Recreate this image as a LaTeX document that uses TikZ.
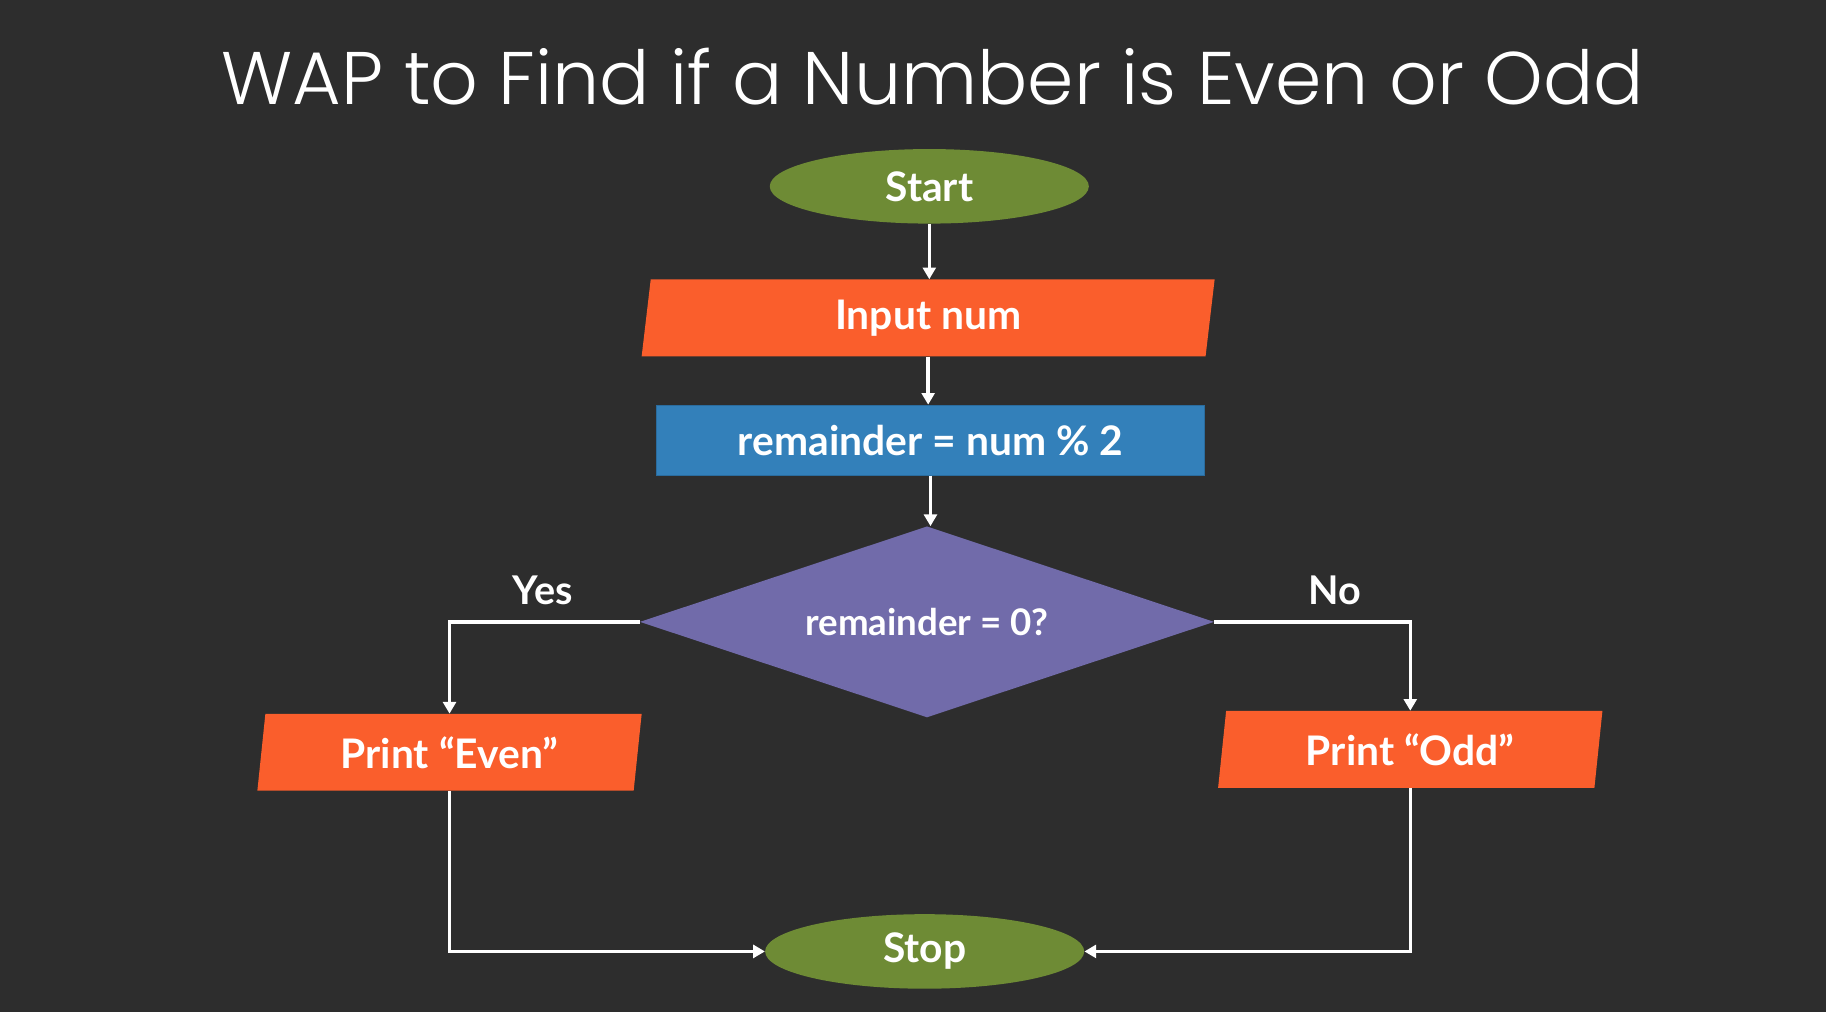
\documentclass[tikz,border=0pt]{standalone}
\usepackage{fontspec}
\setmainfont{Lato}
\newfontfamily\titlefont{Poppins Light}
\usetikzlibrary{shapes.geometric,arrows.meta}
\definecolor{bg}{HTML}{2D2D2D}
\definecolor{termgreen}{HTML}{6E8B35}
\definecolor{ioorange}{HTML}{FA5E2C}
\definecolor{procblue}{HTML}{3380BA}
\definecolor{procborder}{HTML}{2A6C9E}
\definecolor{decpurple}{HTML}{716BAA}
\begin{document}
\begin{tikzpicture}[x=1pt,y=-1pt,
  boxtext/.style={text=white, font=\bfseries\fontsize{35}{40}\selectfont},
  terminal/.style={boxtext, ellipse, fill=termgreen, minimum width=274pt, minimum height=64pt, inner sep=0pt},
  iobox/.style={boxtext, trapezium, trapezium left angle=76, trapezium right angle=104,
     trapezium stretches body, fill=ioorange, minimum width=492pt, minimum height=66pt, inner sep=0pt},
  smallio/.style={iobox, minimum width=330pt},
  procbox/.style={boxtext, rectangle, fill=procblue, draw=procborder, line width=1pt, minimum width=470pt, minimum height=60pt, inner sep=0pt},
  decision/.style={diamond, aspect=3, fill=decpurple, minimum width=493pt, minimum height=164pt, inner sep=0pt,
     text=white, font=\bfseries\fontsize{31.5}{36}\selectfont},
  branchlabel/.style={text=white, font=\bfseries\fontsize{34}{38}\selectfont},
  flow/.style={draw=white, line width=3pt, -{Triangle[width=11pt,length=10pt]}},
  titlestyle/.style={text=white, font=\titlefont\fontsize{64}{72}\selectfont}]
\fill[bg] (0,0) rectangle (1568,869);
\useasboundingbox (0,0) rectangle (1568,869);

\node[titlestyle] (title) at (801,66) {WAP to Find if a Number is Even or Odd};

\node[terminal] (start) at (798,160) {Start};
\node[iobox] (inp) at (797,273) {Input num};
\node[procbox] (rem) at (799,378) {remainder = num \% 2};
\node[decision] (dec) at (796,534) {remainder = 0?};
\node[smallio] (even) at (386,646) {Print “Even”};
\node[smallio] (odd) at (1211,643.5) {Print “Odd”};
\node[terminal] (stop) at (794,817) {Stop};

\node[branchlabel] (yes) at (466,507) {Yes};
\node[branchlabel] (no) at (1146,507) {No};

\draw[flow] (start.south) -- (start.south |- inp.north);
\draw[flow] (inp.south) -- (inp.south |- rem.north);
\draw[flow] (rem.south) -- (rem.south |- dec.north);
\draw[flow] (dec.west) -| (even.north);
\draw[flow] (dec.east) -| (odd.north);
\draw[flow] (even.south) |- (stop.west);
\draw[flow] (odd.south) |- (stop.east);
\end{tikzpicture}
\end{document}
